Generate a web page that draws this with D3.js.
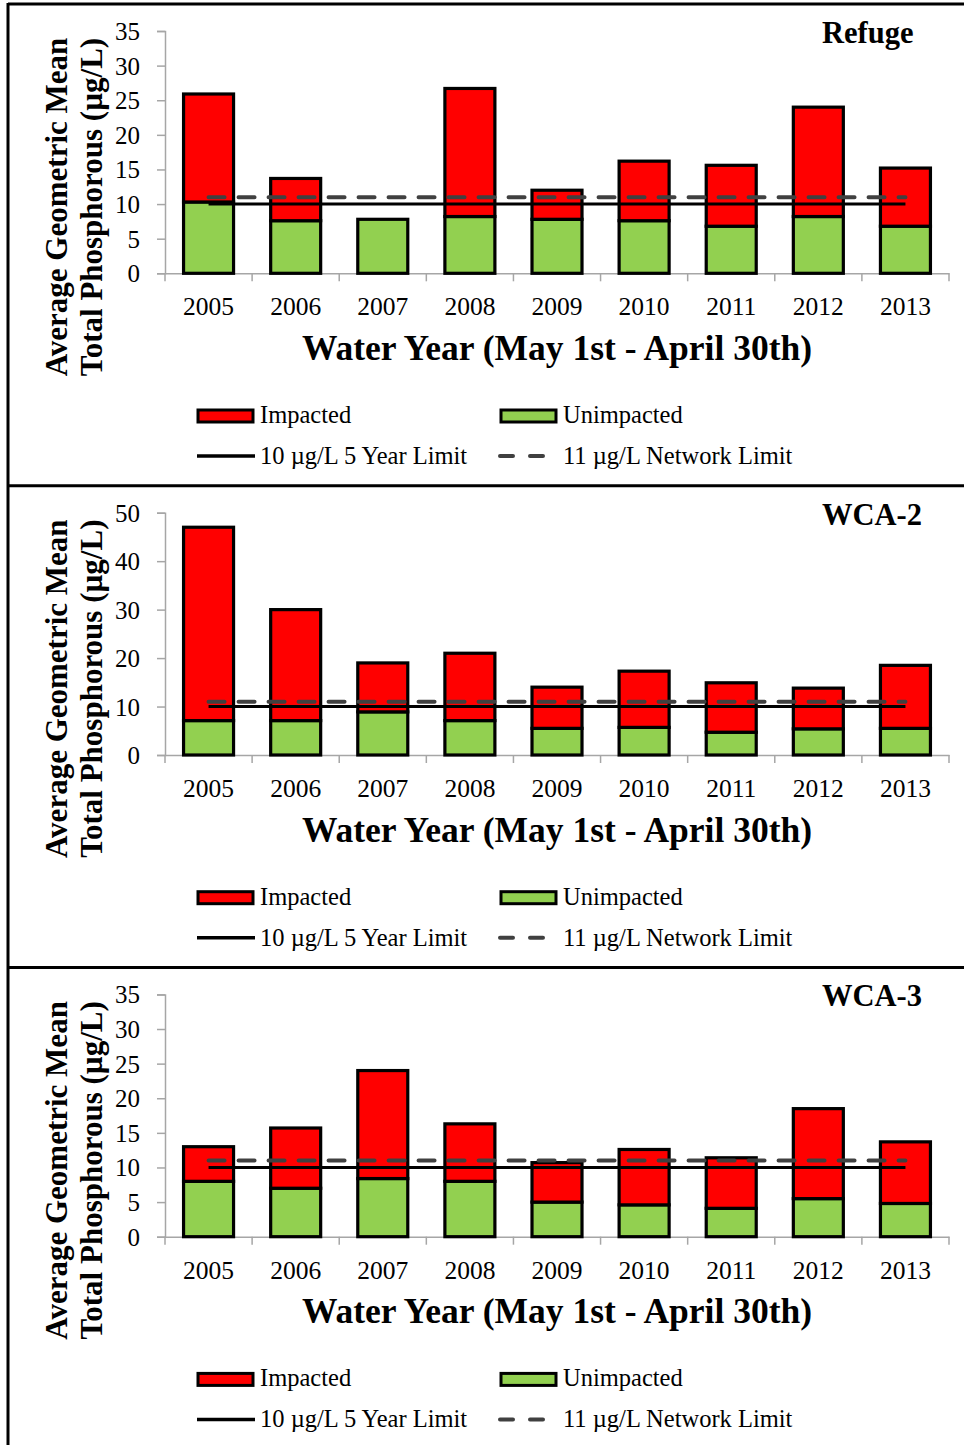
<!DOCTYPE html>
<html>
<head>
<meta charset="utf-8">
<script src="https://cdn.jsdelivr.net/npm/d3@7"></script>
<style>
  body { margin: 0; background: #fff; }
  svg { display: block; }
</style>
</head>
<body>
<svg id="chart"></svg>
<script>
const years = ["2005", "2006", "2007", "2008", "2009", "2010", "2011", "2012", "2013"];

const refugeUnimpacted = [10.3, 7.6, 7.8, 8.2, 7.8, 7.6, 6.8, 8.2, 6.8];
const refugeImpacted   = [15.6, 6.1, 0,   18.5, 4.2, 8.6, 8.8, 15.8, 8.4];

const wca2Unimpacted = [7.1, 7.1, 8.9, 7.1, 5.5, 5.7, 4.7, 5.4, 5.5];
const wca2Impacted   = [39.9, 22.9, 10.1, 13.9, 8.5, 11.6, 10.2, 8.4, 13.0];

const wca3Unimpacted = [8.0, 7.0, 8.4, 8.0, 5.0, 4.6, 4.1, 5.5, 4.8];
const wca3Impacted   = [5.0, 8.7, 15.6, 8.3, 5.7, 8.0, 7.3, 13.0, 8.9];

const fiveYearLimit = 10;
const networkLimit = 11;

const panelNames = ["Refuge", "WCA-2", "WCA-3"];
const yMaxes = [35, 50, 35];
const yTickSteps = [5, 10, 5];

const panels = [
	{name: panelNames[0], unimpacted: refugeUnimpacted, impacted: refugeImpacted, yMax: yMaxes[0], step: yTickSteps[0]},
	{name: panelNames[1], unimpacted: wca2Unimpacted, impacted: wca2Impacted, yMax: yMaxes[1], step: yTickSteps[1]},
	{name: panelNames[2], unimpacted: wca3Unimpacted, impacted: wca3Impacted, yMax: yMaxes[2], step: yTickSteps[2]}
];

let layout = {"width": 964,
			  "height": 1445,
			  "panelHeight": 481.7,
			  "plotTop": 31,
			  "plotBottom": 273.3,
			  "plotLeft": 165,
			  "plotRight": 949};

const serif = "'Liberation Serif', 'Times New Roman', serif";
const red = "#ff0000";
const green = "#92d050";
const axisGray = "#a6a6a6";

let svg = d3.select("#chart")
			.attr("width", layout.width)
			.attr("height", layout.height);

let xScale = d3.scaleBand()
			   .domain(years)
			   .range([layout.plotLeft, layout.plotRight])
			   .paddingInner(0.426)
			   .paddingOuter(0.213);

panels.forEach((p, pi) => {
	let g = svg.append("g")
			   .attr("transform", `translate(0, ${pi * layout.panelHeight})`);

	// frame line on top of each panel
	g.append("line")
	 .attr("x1", 8).attr("x2", layout.width)
	 .attr("y1", 4).attr("y2", 4)
	 .attr("stroke", "#000").attr("stroke-width", 3);

	let yScale = d3.scaleLinear()
				   .domain([0, p.yMax])
				   .range([layout.plotBottom, layout.plotTop]);

	// y axis
	let yAxis = g.append("g")
				 .attr("transform", `translate(${layout.plotLeft}, 0)`)
				 .call(d3.axisLeft(yScale)
						 .tickValues(d3.range(0, p.yMax + 0.001, p.step))
						 .tickSize(8)
						 .tickPadding(17));
	yAxis.select(".domain").attr("stroke", axisGray).attr("stroke-width", 1.5);
	yAxis.selectAll(".tick line").attr("stroke", axisGray).attr("stroke-width", 1.5);
	yAxis.selectAll(".tick text")
		 .attr("font-family", serif).attr("font-size", 25).attr("fill", "#000")
		 .attr("dy", "0.34em");

	// x axis
	let xAxis = g.append("g")
				 .attr("transform", `translate(0, ${layout.plotBottom})`)
				 .call(d3.axisBottom(xScale).tickSize(0).tickPadding(24));
	xAxis.select(".domain").attr("stroke", axisGray).attr("stroke-width", 1.5);
	xAxis.selectAll(".tick text")
		 .attr("font-family", serif).attr("font-size", 25.5).attr("fill", "#000")
		 .attr("dy", "0.71em");

	let boundaries = d3.range(years.length + 1)
					   .map(i => layout.plotLeft + i * xScale.step());
	xAxis.selectAll(".bound")
		 .data(boundaries)
		 .join("line")
		 .attr("class", "bound")
		 .attr("x1", d => d).attr("x2", d => d)
		 .attr("y1", 0).attr("y2", 8)
		 .attr("stroke", axisGray).attr("stroke-width", 1.5);

	// bars
	let rows = years.map((y, i) => ({year: y, u: p.unimpacted[i], im: p.impacted[i]}));

	g.selectAll(".unimp")
	 .data(rows)
	 .join("rect")
	 .attr("class", "unimp")
	 .attr("x", d => xScale(d.year))
	 .attr("width", xScale.bandwidth())
	 .attr("y", d => yScale(d.u))
	 .attr("height", d => yScale(0) - yScale(d.u))
	 .attr("fill", green)
	 .attr("stroke", "#000").attr("stroke-width", 3.2);

	g.selectAll(".imp")
	 .data(rows.filter(d => d.im > 0))
	 .join("rect")
	 .attr("class", "imp")
	 .attr("x", d => xScale(d.year))
	 .attr("width", xScale.bandwidth())
	 .attr("y", d => yScale(d.u + d.im))
	 .attr("height", d => yScale(d.u) - yScale(d.u + d.im))
	 .attr("fill", red)
	 .attr("stroke", "#000").attr("stroke-width", 3.2);

	// limit lines
	let xStart = xScale(years[0]) + xScale.bandwidth() / 2;
	let xEnd = xScale(years[years.length - 1]) + xScale.bandwidth() / 2;

	g.append("line")
	 .attr("x1", xStart).attr("x2", xEnd)
	 .attr("y1", yScale(fiveYearLimit)).attr("y2", yScale(fiveYearLimit))
	 .attr("stroke", "#000").attr("stroke-width", 3);

	g.append("line")
	 .attr("x1", xStart).attr("x2", xEnd)
	 .attr("y1", yScale(networkLimit)).attr("y2", yScale(networkLimit))
	 .attr("stroke", "#404040").attr("stroke-width", 4)
	 .attr("stroke-dasharray", "16,14")
	 .attr("stroke-linecap", "round");

	// panel title
	g.append("text")
	 .attr("x", 822).attr("y", 43)
	 .attr("font-family", serif).attr("font-weight", "bold").attr("font-size", 30.5)
	 .text(p.name);

	// x title
	g.append("text")
	 .attr("x", (layout.plotLeft + layout.plotRight) / 2).attr("y", 360)
	 .attr("text-anchor", "middle")
	 .attr("font-family", serif).attr("font-weight", "bold").attr("font-size", 35.5)
	 .text("Water Year (May 1st - April 30th)");

	// y title
	let yTitle = g.append("text")
				  .attr("transform", "translate(67, 207) rotate(-90)")
				  .attr("text-anchor", "middle")
				  .attr("font-family", serif).attr("font-weight", "bold").attr("font-size", 31);
	yTitle.append("tspan").attr("x", 0).attr("y", 0).text("Average Geometric Mean");
	yTitle.append("tspan").attr("x", 0).attr("y", 35).text("Total Phosphorous (µg/L)");

	// legend
	let leg = g.append("g").attr("font-family", serif).attr("font-size", 24.5);

	leg.append("rect")
	   .attr("x", 198).attr("y", 410).attr("width", 55).attr("height", 12)
	   .attr("fill", red).attr("stroke", "#000").attr("stroke-width", 3);
	leg.append("text").attr("x", 260).attr("y", 423).text("Impacted");

	leg.append("rect")
	   .attr("x", 501).attr("y", 410).attr("width", 55).attr("height", 12)
	   .attr("fill", green).attr("stroke", "#000").attr("stroke-width", 3);
	leg.append("text").attr("x", 563).attr("y", 423).text("Unimpacted");

	leg.append("line")
	   .attr("x1", 197).attr("x2", 255).attr("y1", 456).attr("y2", 456)
	   .attr("stroke", "#000").attr("stroke-width", 3.5);
	leg.append("text").attr("x", 260).attr("y", 464).text("10 µg/L 5 Year Limit");

	leg.append("line")
	   .attr("x1", 500).attr("x2", 545).attr("y1", 456).attr("y2", 456)
	   .attr("stroke", "#404040").attr("stroke-width", 4)
	   .attr("stroke-dasharray", "13,17")
	   .attr("stroke-linecap", "round");
	leg.append("text").attr("x", 563).attr("y", 464).text("11 µg/L Network Limit");
});

// left frame edge
svg.append("line")
   .attr("x1", 8).attr("x2", 8)
   .attr("y1", 3).attr("y2", layout.height)
   .attr("stroke", "#000").attr("stroke-width", 3);
</script>
</body>
</html>
